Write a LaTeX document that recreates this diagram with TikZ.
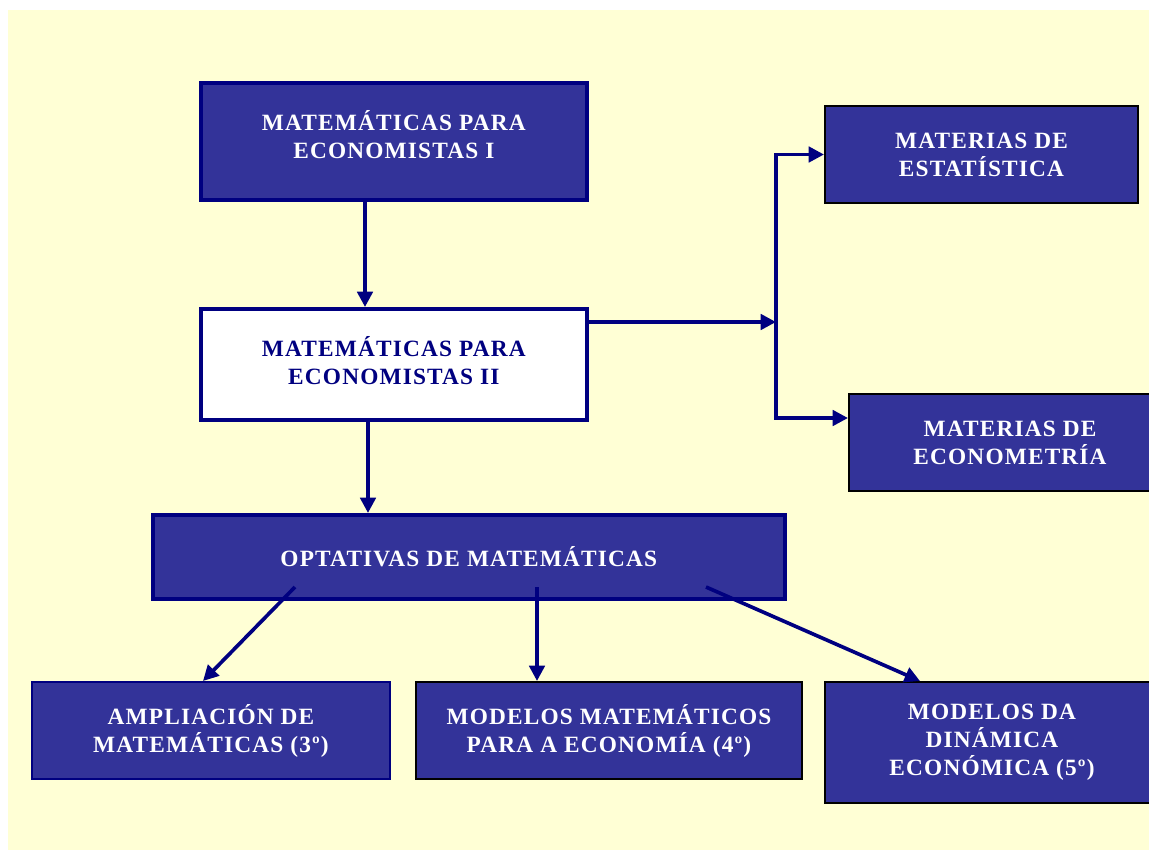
\documentclass[tikz,border=0pt]{standalone}
\usepackage{fontspec}
\setmainfont{Liberation Serif}[LetterSpace=5]
\usetikzlibrary{positioning,calc,arrows.meta}
\definecolor{paper}{HTML}{FFFFD5}
\definecolor{boxblue}{HTML}{333399}
\definecolor{linenavy}{HTML}{000080}

\begin{document}
\begin{tikzpicture}[x=0.75pt, y=-0.75pt,
        font=\fontsize{17.5}{21}\selectfont\bfseries,
        subject/.style={draw=linenavy, line width=2.75pt, fill=boxblue, text=white,
          align=center, anchor=north west, inner sep=0pt},
        thinbox/.style={subject, line width=1.5pt},
        blackbox/.style={thinbox, draw=black},
        link/.style={draw=linenavy, line width=2.75pt},
        conn/.style={link, -{Triangle[length=11.5pt, width=11.5pt]}}]
        \useasboundingbox (0,0) rectangle (1149,850);
        \clip (0,0) rectangle (1149,850);
        \fill[paper] (8,10) rectangle (1149,850);
        % boxes
        \node[subject, text depth=10.5pt, minimum width=289.5pt, minimum height=87.75pt] (mei) at (199,81)
          {MATEMÁTICAS PARA\\ECONOMISTAS I};
        \node[subject, text depth=6pt, fill=white, text=linenavy, minimum width=289.5pt, minimum height=83.25pt] (meii) at (199,307)
          {MATEMÁTICAS PARA\\ECONOMISTAS II};
        \node[blackbox, minimum width=234.75pt, minimum height=72.75pt] (est) at (824,105)
          {MATERIAS DE\\ESTATÍSTICA};
        \node[blackbox, minimum width=241.5pt, minimum height=72.75pt] (ectria) at (848,393)
          {MATERIAS DE\\ECONOMETRÍA};
        \node[subject, minimum width=474pt, minimum height=63pt] (opt) at (151,513)
          {OPTATIVAS DE MATEMÁTICAS};
        \node[thinbox, minimum width=268.5pt, minimum height=72.75pt] (ampl) at (31,681)
          {AMPLIACIÓN DE\\MATEMÁTICAS (3º)};
        \node[blackbox, minimum width=289.5pt, minimum height=72.75pt] (mod) at (415,681)
          {MODELOS MATEMÁTICOS\\PARA A ECONOMÍA (4º)};
        \node[blackbox, minimum width=250.5pt, minimum height=90.75pt] (din) at (824,681)
          {MODELOS DA\\DINÁMICA\\ECONÓMICA (5º)};
        % connectors
        \coordinate (down-a) at (365,0);
        \coordinate (down-b) at (368,0);
        \coordinate (fork-mid) at (776,322);
        \coordinate (fork-up) at (est.west -| fork-mid);
        \coordinate (fork-down) at (776,418);
        \coordinate (opt-l) at (295,587);
        \coordinate (opt-m) at (537,587);
        \coordinate (opt-r) at (706,587);
        \coordinate (tip-l) at (203,681);
        \coordinate (tip-m) at (537,681);
        \coordinate (tip-r) at (920,681);
        \draw[conn] (mei.south -| down-a) -- (meii.north -| down-a);
        \draw[conn] (meii.south -| down-b) -- (opt.north -| down-b);
        \draw[conn] (meii.east |- fork-mid) -- (fork-mid);
        \draw[link, line cap=rect] (fork-up) -- (fork-down);
        \draw[conn] (fork-up) -- (est.west);
        \draw[conn] (fork-down) -- (ectria.west |- fork-down);
        \draw[conn] (opt-l) -- (tip-l);
        \draw[conn] (opt-m) -- (tip-m);
        \draw[conn] (opt-r) -- (tip-r);
\end{tikzpicture}
\end{document}
